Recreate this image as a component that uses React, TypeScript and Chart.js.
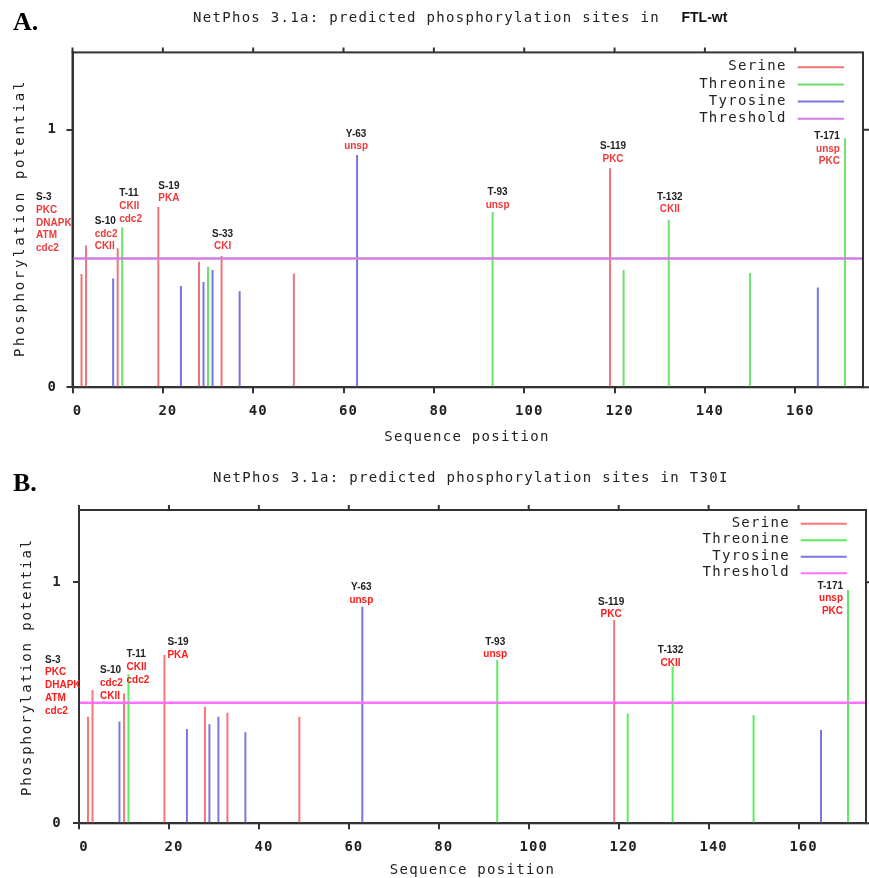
import React, { useEffect, useRef } from "react";
import { Chart, registerables } from "chart.js";

Chart.register(...registerables);

// ---------------- data ----------------
const X_MIN = 0;
const X_MAX = 175;
const Y_MIN = 0;
const Y_MAX = 1.3;
const X_TICKS = [0, 20, 40, 60, 80, 100, 120, 140, 160];
const Y_TICKS = [0, 1];
const THRESHOLD = 0.5;
const SERIES_NAMES = ["Serine", "Threonine", "Tyrosine", "Threshold"];

// Panel A : FTL-wt
const A_SERINE_POS = [2, 3, 10, 19, 28, 33, 49, 119];
const A_SERINE_VAL = [0.44, 0.55, 0.54, 0.70, 0.487, 0.51, 0.442, 0.85];
const A_THREONINE_POS = [11, 30, 93, 122, 132, 150, 171];
const A_THREONINE_VAL = [0.62, 0.468, 0.68, 0.455, 0.65, 0.444, 0.967];
const A_TYROSINE_POS = [9, 24, 29, 31, 37, 63, 165];
const A_TYROSINE_VAL = [0.422, 0.393, 0.409, 0.455, 0.373, 0.902, 0.387];
const A_SITE_NAMES = ["S-3", "S-10", "T-11", "S-19", "S-33", "Y-63", "T-93", "S-119", "T-132", "T-171"];
const A_SITE_POS = [3, 10, 11, 19, 33, 63, 93, 119, 132, 171];
const A_SITE_KINASES = [
  ["PKC", "DNAPK", "ATM", "cdc2"],
  ["cdc2", "CKII"],
  ["CKII", "cdc2"],
  ["PKA"],
  ["CKI"],
  ["unsp"],
  ["unsp"],
  ["PKC"],
  ["CKII"],
  ["unsp", "PKC"],
];

// Panel B : T30I
const B_SERINE_POS = [2, 3, 10, 19, 28, 33, 49, 119];
const B_SERINE_VAL = [0.442, 0.553, 0.539, 0.698, 0.484, 0.459, 0.442, 0.844];
const B_THREONINE_POS = [11, 93, 122, 132, 150, 171];
const B_THREONINE_VAL = [0.618, 0.678, 0.456, 0.65, 0.449, 0.968];
const B_TYROSINE_POS = [9, 24, 29, 31, 37, 63, 165];
const B_TYROSINE_VAL = [0.422, 0.391, 0.411, 0.442, 0.378, 0.899, 0.387];
const B_SITE_NAMES = ["S-3", "S-10", "T-11", "S-19", "Y-63", "T-93", "S-119", "T-132", "T-171"];
const B_SITE_POS = [3, 10, 11, 19, 63, 93, 119, 132, 171];
const B_SITE_KINASES = [
  ["PKC", "DHAPK", "ATM", "cdc2"],
  ["cdc2", "CKII"],
  ["CKII", "cdc2"],
  ["PKA"],
  ["unsp"],
  ["unsp"],
  ["PKC"],
  ["CKII"],
  ["unsp", "PKC"],
];

// ---------------- layout / style ----------------
type Align = "left" | "center" | "right";
type LabelLayout = { align: Align; dx: number; dy: number };

const A_LABEL_LAYOUT: LabelLayout[] = [
  { align: "left", dx: -50, dy: -48 },
  { align: "left", dx: -23, dy: -27 },
  { align: "left", dx: -3, dy: -34 },
  { align: "left", dx: 0, dy: -21 },
  { align: "center", dx: 1, dy: -22 },
  { align: "center", dx: -1, dy: -21 },
  { align: "center", dx: 5, dy: -20 },
  { align: "center", dx: 3, dy: -22 },
  { align: "center", dx: 1, dy: -23 },
  { align: "right", dx: -5, dy: -2 },
];
const B_LABEL_LAYOUT: LabelLayout[] = [
  { align: "left", dx: -47.5, dy: -30 },
  { align: "left", dx: -24, dy: -23 },
  { align: "left", dx: -2, dy: -20 },
  { align: "left", dx: 3, dy: -13 },
  { align: "center", dx: -1, dy: -19 },
  { align: "center", dx: -2, dy: -18 },
  { align: "center", dx: -3, dy: -18 },
  { align: "center", dx: -2, dy: -16 },
  { align: "right", dx: -5, dy: -4 },
];

const MONO = '"DejaVu Sans Mono", monospace';
const SANS = '"Liberation Sans", Arial, sans-serif';
const SERIF = '"Liberation Serif", "Times New Roman", serif';
const FRAME = "#333333";
const TEXT = "#222222";

type Pt = { x: number; y: number | null };
function stems(pos: number[], val: number[]): Pt[] {
  const out: Pt[] = [];
  pos.forEach((p, i) => {
    out.push({ x: p, y: 0 }, { x: p, y: val[i] }, { x: p, y: null });
  });
  return out;
}

interface PanelSpec {
  height: number;
  letter: string;
  letterPos: [number, number];
  titleMain: string;
  titleExtra: string;
  titleX: number;
  titleY: number;
  titleExtraX: number;
  yTitlePos: [number, number];
  yTitleSpacing: number;
  xTitlePos: [number, number];
  padTop: number;
  padRight: number;
  padBottom: number;
  yWidth: number;
  yTickPad: number;
  legendTextRight: number;
  legendLine: [number, number];
  legendRow0: number;
  legendStep: number;
  colors: { ser: string; thr: string; tyr: string; thresh: string; red: string };
  serPos: number[];
  serVal: number[];
  thrPos: number[];
  thrVal: number[];
  tyrPos: number[];
  tyrVal: number[];
  siteNames: string[];
  sitePos: number[];
  siteKinases: string[][];
  labelLayout: LabelLayout[];
}

const PANEL_A: PanelSpec = {
  height: 445,
  letter: "A.",
  letterPos: [13, 30],
  titleMain: "NetPhos 3.1a: predicted phosphorylation sites in",
  titleExtra: "FTL-wt",
  titleX: 193,
  titleY: 18.5,
  titleExtraX: 681.5,
  yTitlePos: [20, 218],
  yTitleSpacing: 2.7,
  xTitlePos: [467, 437],
  padTop: 52.4,
  padRight: 6,
  padBottom: 27.7,
  yWidth: 72.5,
  yTickPad: 9.5,
  legendTextRight: 786.7,
  legendLine: [797.7, 844],
  legendRow0: 66.7,
  legendStep: 17.2,
  colors: { ser: "#f07474", thr: "#6ee06e", tyr: "#7676e0", thresh: "#d27ee0", red: "#f03a3a" },
  serPos: A_SERINE_POS,
  serVal: A_SERINE_VAL,
  thrPos: A_THREONINE_POS,
  thrVal: A_THREONINE_VAL,
  tyrPos: A_TYROSINE_POS,
  tyrVal: A_TYROSINE_VAL,
  siteNames: A_SITE_NAMES,
  sitePos: A_SITE_POS,
  siteKinases: A_SITE_KINASES,
  labelLayout: A_LABEL_LAYOUT,
};

const PANEL_B: PanelSpec = {
  height: 433,
  letter: "B.",
  letterPos: [13, 46],
  titleMain: "NetPhos 3.1a: predicted phosphorylation sites in T30I",
  titleExtra: "",
  titleX: 213,
  titleY: 33.3,
  titleExtraX: 0,
  yTitlePos: [27.5, 222],
  yTitleSpacing: 1.9,
  xTitlePos: [472.5, 425],
  padTop: 65,
  padRight: 3,
  padBottom: 24.7,
  yWidth: 79,
  yTickPad: 11.3,
  legendTextRight: 790,
  legendLine: [800.7, 846.7],
  legendRow0: 78.3,
  legendStep: 16.5,
  colors: { ser: "#f87676", thr: "#5eec5e", tyr: "#7878e0", thresh: "#ff70ff", red: "#ff1a1a" },
  serPos: B_SERINE_POS,
  serVal: B_SERINE_VAL,
  thrPos: B_THREONINE_POS,
  thrVal: B_THREONINE_VAL,
  tyrPos: B_TYROSINE_POS,
  tyrVal: B_TYROSINE_VAL,
  siteNames: B_SITE_NAMES,
  sitePos: B_SITE_POS,
  siteKinases: B_SITE_KINASES,
  labelLayout: B_LABEL_LAYOUT,
};

function lookupValue(p: PanelSpec, name: string, pos: number): number {
  const letter = name[0];
  const [ps, vs] =
    letter === "S" ? [p.serPos, p.serVal] : letter === "T" ? [p.thrPos, p.thrVal] : [p.tyrPos, p.tyrVal];
  const i = ps.indexOf(pos);
  return i >= 0 ? vs[i] : 0;
}

function makePlugins(p: PanelSpec) {
  const tickSpacing = {
    id: "tickSpacing",
    beforeDraw(chart: any) {
      chart.ctx.letterSpacing = "1px";
    },
  };
  const frame = {
    id: "frame",
    afterDraw(chart: any) {
      const { ctx, chartArea: a, scales } = chart;
      ctx.save();
      ctx.letterSpacing = "0px";
      ctx.strokeStyle = FRAME;
      ctx.lineWidth = 2;
      ctx.strokeRect(a.left, a.top, a.right - a.left, a.bottom - a.top);
      ctx.beginPath();
      X_TICKS.forEach((v) => {
        const x = scales.x.getPixelForValue(v);
        ctx.moveTo(x, a.top);
        ctx.lineTo(x, a.top - 5);
      });
      Y_TICKS.forEach((v) => {
        const y = scales.y.getPixelForValue(v);
        ctx.moveTo(a.right, y);
        ctx.lineTo(a.right + 6, y);
      });
      ctx.stroke();
      ctx.restore();
    },
  };
  const texts = {
    id: "texts",
    afterDraw(chart: any) {
      const { ctx, scales } = chart;
      ctx.save();
      // panel letter
      ctx.letterSpacing = "0px";
      ctx.fillStyle = "#000";
      ctx.font = `bold 26px ${SERIF}`;
      ctx.textAlign = "left";
      ctx.textBaseline = "alphabetic";
      ctx.fillText(p.letter, p.letterPos[0], p.letterPos[1]);

      // title
      ctx.letterSpacing = "1.3px";
      ctx.font = `14px ${MONO}`;
      ctx.fillStyle = TEXT;
      ctx.textBaseline = "middle";
      ctx.fillText(p.titleMain, p.titleX, p.titleY);
      if (p.titleExtra) {
        ctx.letterSpacing = "0px";
        ctx.font = `bold 14px ${SANS}`;
        ctx.fillStyle = "#111";
        ctx.fillText(p.titleExtra, p.titleExtraX, p.titleY);
      }

      // axis titles
      ctx.letterSpacing = "1.3px";
      ctx.font = `14px ${MONO}`;
      ctx.fillStyle = TEXT;
      ctx.textAlign = "center";
      ctx.fillText("Sequence position", p.xTitlePos[0], p.xTitlePos[1]);
      ctx.save();
      ctx.translate(p.yTitlePos[0], p.yTitlePos[1]);
      ctx.rotate(-Math.PI / 2);
      ctx.letterSpacing = `${p.yTitleSpacing}px`;
      ctx.fillText("Phosphorylation potential", 0, 0);
      ctx.restore();

      // legend
      const legendColors = [p.colors.ser, p.colors.thr, p.colors.tyr, p.colors.thresh];
      SERIES_NAMES.forEach((name, i) => {
        const y = p.legendRow0 + i * p.legendStep;
        ctx.letterSpacing = "1.3px";
        ctx.font = `14px ${MONO}`;
        ctx.fillStyle = TEXT;
        ctx.textAlign = "right";
        ctx.textBaseline = "middle";
        ctx.fillText(name, p.legendTextRight, y);
        ctx.strokeStyle = legendColors[i];
        ctx.lineWidth = 2;
        ctx.beginPath();
        ctx.moveTo(p.legendLine[0], y + 0.5);
        ctx.lineTo(p.legendLine[1], y + 0.5);
        ctx.stroke();
      });

      // site annotations
      ctx.letterSpacing = "0px";
      ctx.font = `bold 10px ${SANS}`;
      ctx.textBaseline = "middle";
      p.siteNames.forEach((name, i) => {
        const pos = p.sitePos[i];
        const v = lookupValue(p, name, pos);
        const lay = p.labelLayout[i];
        const x = scales.x.getPixelForValue(pos) + lay.dx;
        const y0 = scales.y.getPixelForValue(v) + lay.dy;
        ctx.textAlign = lay.align;
        ctx.fillStyle = TEXT;
        ctx.fillText(name, x, y0);
        ctx.fillStyle = p.colors.red;
        p.siteKinases[i].forEach((k, j) => {
          ctx.fillText(k, x, y0 + (j + 1) * 12.7);
        });
      });
      ctx.restore();
    },
  };
  return [tickSpacing, frame, texts];
}

function buildConfig(p: PanelSpec): any {
  const common = { pointRadius: 0, pointHoverRadius: 0, tension: 0, spanGaps: false, fill: false };
  return {
    type: "line",
    data: {
      datasets: [
        {
          label: "Threshold",
          data: [
            { x: X_MIN, y: THRESHOLD },
            { x: X_MAX, y: THRESHOLD },
          ],
          borderColor: p.colors.thresh,
          borderWidth: 2.5,
          ...common,
        },
        { label: "Serine", data: stems(p.serPos, p.serVal), borderColor: p.colors.ser, borderWidth: 2, ...common },
        { label: "Threonine", data: stems(p.thrPos, p.thrVal), borderColor: p.colors.thr, borderWidth: 2, ...common },
        { label: "Tyrosine", data: stems(p.tyrPos, p.tyrVal), borderColor: p.colors.tyr, borderWidth: 2, ...common },
      ],
    },
    options: {
      responsive: false,
      maintainAspectRatio: false,
      animation: false,
      events: [],
      layout: { padding: { top: p.padTop, right: p.padRight, bottom: p.padBottom, left: 0 } },
      plugins: { legend: { display: false }, tooltip: { enabled: false }, title: { display: false } },
      scales: {
        x: {
          type: "linear",
          min: X_MIN,
          max: X_MAX,
          afterFit: (s: any) => {
            s.height = 30;
          },
          afterBuildTicks: (s: any) => {
            s.ticks = X_TICKS.map((v) => ({ value: v }));
          },
          ticks: {
            autoSkip: false,
            maxRotation: 0,
            padding: 10,
            labelOffset: 5,
            color: TEXT,
            font: { family: MONO, size: 14, weight: "bold" },
          },
          grid: { drawOnChartArea: false, drawTicks: true, tickLength: 6, color: FRAME, lineWidth: 2 },
          border: { display: true, color: FRAME, width: 2 },
        },
        y: {
          type: "linear",
          min: Y_MIN,
          max: Y_MAX,
          afterFit: (s: any) => {
            s.width = p.yWidth;
          },
          afterBuildTicks: (s: any) => {
            s.ticks = Y_TICKS.map((v) => ({ value: v }));
          },
          ticks: {
            autoSkip: false,
            padding: p.yTickPad,
            color: TEXT,
            font: { family: MONO, size: 14, weight: "bold" },
          },
          grid: { drawOnChartArea: false, drawTicks: true, tickLength: 6, color: FRAME, lineWidth: 2 },
          border: { display: true, color: FRAME, width: 2 },
        },
      },
    },
    plugins: makePlugins(p),
  };
}

function Panel({ spec }: { spec: PanelSpec }) {
  const ref = useRef<HTMLCanvasElement>(null);
  useEffect(() => {
    if (!ref.current) return;
    const chart = new Chart(ref.current, buildConfig(spec));
    return () => chart.destroy();
  }, [spec]);
  return (
    <canvas
      ref={ref}
      width={869}
      height={spec.height}
      style={{ display: "block", width: 869, height: spec.height }}
    />
  );
}

export default function App() {
  useEffect(() => {
    document.body.style.margin = "0";
    document.body.style.background = "#ffffff";
  }, []);
  return (
    <div style={{ width: 869, height: 878, background: "#fff", overflow: "hidden" }}>
      <Panel spec={PANEL_A} />
      <Panel spec={PANEL_B} />
    </div>
  );
}
